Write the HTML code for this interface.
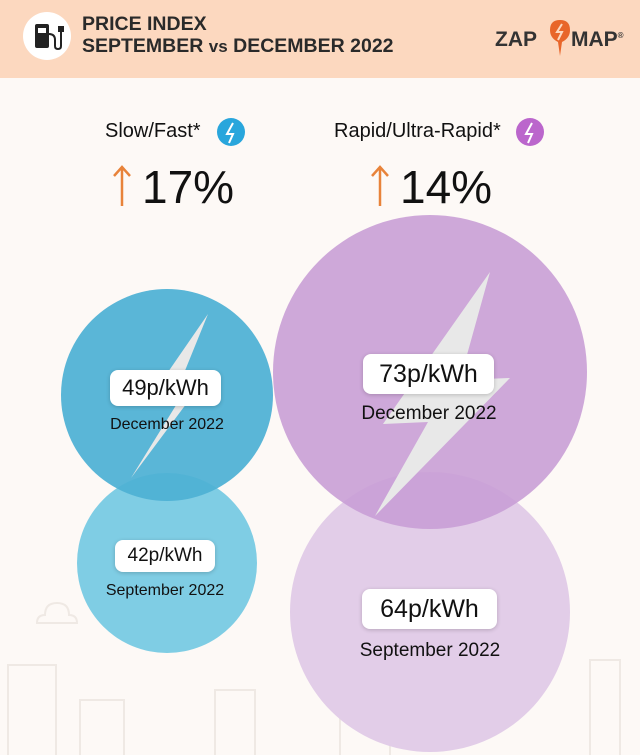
<!DOCTYPE html>
<html><head><meta charset="utf-8"><style>
body{margin:0;width:640px;height:755px;overflow:hidden;background:#fdf9f6;font-family:"Liberation Sans",sans-serif;position:relative}
.hdr{position:absolute;left:0;top:0;width:640px;height:78px;background:#fcd8bf}
.t{position:absolute;color:#2a2a2a;font-weight:bold}
.lbl{position:absolute;background:#fff;border-radius:8px;box-shadow:0 1px 4px rgba(0,0,0,.2);text-align:center;color:#111}
.sub{position:absolute;text-align:center;color:#111}
</style></head><body>
<div class="hdr"></div>
<svg style="position:absolute;left:0;top:0" width="640" height="755">
<circle cx="47" cy="36" r="24" fill="#fff"/>
<rect x="35" y="24" width="14" height="24" rx="2" fill="#222"/>
<rect x="38" y="28" width="8" height="5" fill="#fff"/>
<path d="M49 34 q6 0 6 6 v6 q0 3 3 3 q3 0 3-3 v-14" stroke="#222" stroke-width="2" fill="none"/>
<rect x="58" y="26" width="6" height="6" fill="#222"/>
<g stroke="#efe9e4" stroke-width="2" fill="none">
<rect x="8" y="665" width="48" height="95"/><rect x="80" y="700" width="44" height="60"/>
<rect x="215" y="690" width="40" height="70"/><rect x="340" y="710" width="50" height="50"/>
<rect x="590" y="660" width="30" height="100"/>
<path d="M45 615 q0-12 12-12 q12 0 12 12 q8 0 8 8 h-40 q0-8 8-8z"/>
</g>
<circle cx="167" cy="563" r="90" fill="#7fcde4"/>
<circle cx="430" cy="612" r="140" fill="#e2cde8"/>
<circle cx="167" cy="395" r="106" fill="#4eb0d4" fill-opacity="0.93"/>
<circle cx="430" cy="372" r="157" fill="#c99ed6" fill-opacity="0.9"/>
<polygon points="208,314 146,404 178,402 131,478 207,376 182,378" fill="#e8e8e8"/>
<polygon points="490,272 383,424 428,422 375,516 510,378 460,380" fill="#e8e8e8"/>
<circle cx="231" cy="132" r="14" fill="#29a6dc"/>
<path d="M233 123 l-6 11 h6 l-4 9" stroke="#fff" stroke-width="2" fill="none"/>
<circle cx="530" cy="132" r="14" fill="#bb66cc"/>
<path d="M532 123 l-6 11 h6 l-4 9" stroke="#fff" stroke-width="2" fill="none"/>
<g stroke="#e8833a" stroke-width="2.5" fill="none">
<path d="M122 206 v-38 M114 176 l8-9 l8 9"/>
<path d="M380 206 v-38 M372 176 l8-9 l8 9"/>
</g>
<path d="M560 20 q-10 0 -10 10 q0 8 8 12 l2 14 l2-14 q8-4 8-12 q0-10-10-10z" fill="#e8662a"/>
<path d="M562 24 l-5 8 h5 l-4 8" stroke="#fcd8bf" stroke-width="2" fill="none"/>
</svg>
<div class="t" style="left:82px;top:13px;font-size:19.5px;line-height:22px">PRICE INDEX<br>SEPTEMBER <span style="font-size:17px">vs</span> DECEMBER 2022</div>
<div class="t" style="left:495px;top:28px;font-size:21px;color:#333">ZAP</div>
<div class="t" style="left:571px;top:28px;font-size:21px;color:#333">MAP<sup style="font-size:8px">®</sup></div>
<div style="position:absolute;left:105px;top:120px;font-size:20px;color:#111">Slow/Fast*</div>
<div style="position:absolute;left:334px;top:120px;font-size:20px;color:#111">Rapid/Ultra-Rapid*</div>
<div style="position:absolute;left:142px;top:160px;font-size:46px;color:#111">17%</div>
<div style="position:absolute;left:400px;top:160px;font-size:46px;color:#111">14%</div>
<div class="lbl" style="left:110px;top:370px;width:111px;height:36px;line-height:36px;font-size:22px">49p/kWh</div>
<div class="sub" style="left:87px;top:416px;width:160px;font-size:16px">December 2022</div>
<div class="lbl" style="left:363px;top:354px;width:131px;height:40px;line-height:40px;font-size:25px">73p/kWh</div>
<div class="sub" style="left:329px;top:403px;width:200px;font-size:19px">December 2022</div>
<div class="lbl" style="left:115px;top:540px;width:100px;height:32px;line-height:32px;font-size:19px">42p/kWh</div>
<div class="sub" style="left:85px;top:582px;width:160px;font-size:16px">September 2022</div>
<div class="lbl" style="left:362px;top:589px;width:135px;height:40px;line-height:40px;font-size:25px">64p/kWh</div>
<div class="sub" style="left:330px;top:640px;width:200px;font-size:19px">September 2022</div>
</body></html>
